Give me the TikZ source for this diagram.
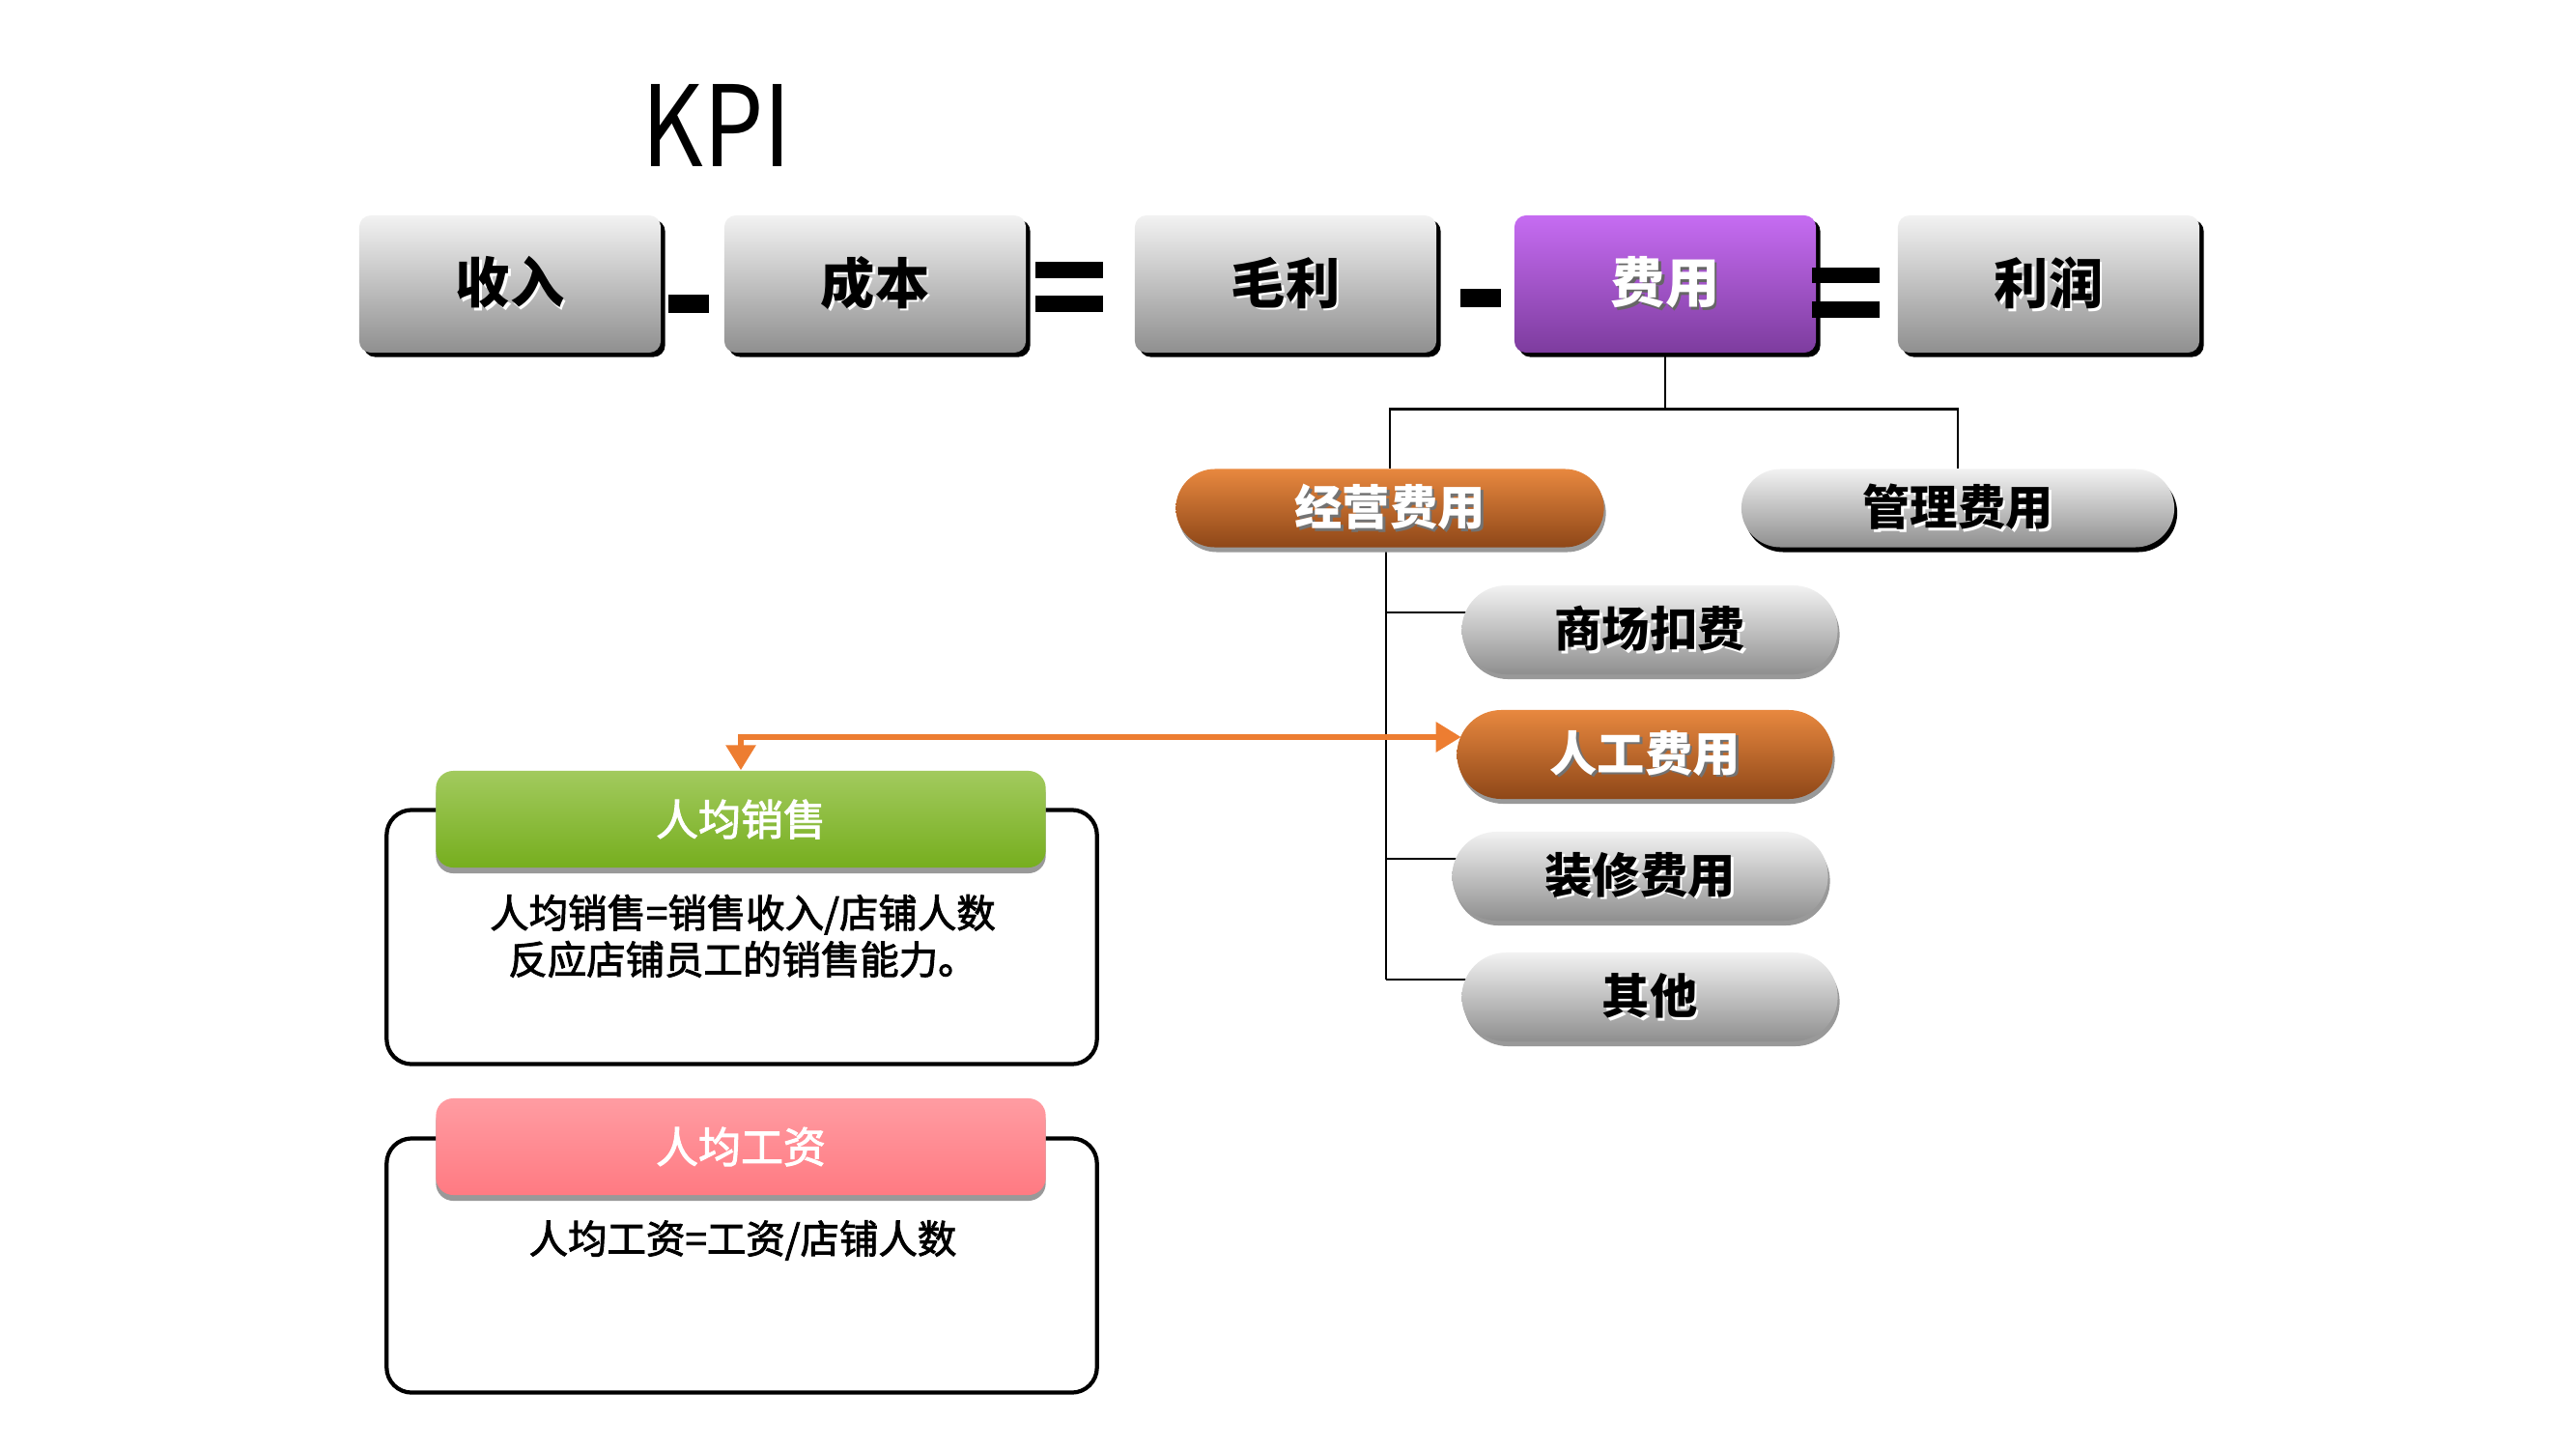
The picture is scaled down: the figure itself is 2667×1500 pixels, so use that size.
\documentclass[tikz,border=0pt]{standalone}
\usepackage{fontspec}
\usepackage{graphicx}
\usetikzlibrary{shapes.misc,shadows,arrows.meta,backgrounds}

\newfontfamily\cjk{Noto Sans CJK SC}
\newfontfamily\cjkmed{Noto Sans CJK SC}[FakeBold=2.2]

\definecolor{boxtop}{HTML}{F2F2F2}
\definecolor{boxbot}{HTML}{8F8F8F}
\definecolor{purtop}{HTML}{C66CF2}
\definecolor{purbot}{HTML}{7D3C9E}
\definecolor{orgtop}{HTML}{E8883F}
\definecolor{orgbot}{HTML}{8E4718}
\definecolor{grntop}{HTML}{A2CA5E}
\definecolor{grnbot}{HTML}{76AE1E}
\definecolor{pnktop}{HTML}{FF9CA2}
\definecolor{pnkbot}{HTML}{FF7A82}
\definecolor{linkorange}{HTML}{ED7D31}

% text with a small offset copy behind it
\newcommand{\shadowed}[2]{\rlap{\hspace{0.8pt}\raisebox{-0.8pt}{\textcolor{#1}{#2}}}#2}

\begin{document}
\begin{tikzpicture}[x=0.01cm,y=-0.01cm,
	kpibox/.style={rectangle,rounded corners=0.12cm,minimum width=3.12cm,minimum height=1.42cm,
		inner sep=0pt,top color=boxtop,bottom color=boxbot,
		drop shadow={shadow xshift=0.045cm,shadow yshift=-0.045cm,fill=black,opacity=1},
		font=\cjk\bfseries\fontsize{16pt}{18pt}\selectfont},
	costbox/.style={kpibox,top color=purtop,bottom color=purbot,text=white},
	pillbase/.style={rounded rectangle,minimum width=3.89cm,minimum height=0.92cm,inner sep=0pt,
		top color=boxtop,bottom color=boxbot,
		font=\cjk\bfseries\fontsize{14pt}{16pt}\selectfont},
	pill/.style={pillbase,drop shadow={shadow xshift=0.02cm,shadow yshift=-0.05cm,fill=black!40,opacity=1}},
	darkpill/.style={pillbase,drop shadow={shadow xshift=0.03cm,shadow yshift=-0.05cm,fill=black,opacity=1}},
	hotpill/.style={pill,top color=orgtop,bottom color=orgbot,text=white},
	frame/.style={draw=black,line width=1.2pt,rounded corners=0.26cm,minimum width=7.35cm,minimum height=2.63cm},
	header/.style={rectangle,rounded corners=0.18cm,minimum width=6.31cm,minimum height=1cm,inner sep=0pt,
		text=white,font=\cjkmed\fontsize{12.5pt}{14pt}\selectfont,
		drop shadow={shadow xshift=0cm,shadow yshift=-0.06cm,fill=black!40,opacity=1}},
	deftext/.style={align=center,inner sep=0pt,font=\cjkmed\fontsize{11.5pt}{13.7pt}\selectfont},
	tree line/.style={draw=black,line width=0.8pt},
	link arrow/.style={draw=linkorange,line width=1.7pt,
		{Triangle[width=0.3cm,length=0.26cm]}-{Triangle[width=0.3cm,length=0.26cm]}}]

	\useasboundingbox (0,0) rectangle (2667,1500);

	\node[font=\cjk\fontsize{33pt}{36pt}\selectfont,anchor=west,inner sep=0pt] (title) at (664,130) {\scalebox{0.85}[1]{KPI}};

	% formula row
	\node[kpibox] (income) at (528,294) {\shadowed{white}{收入}};
	\node[kpibox] (cogs) at (906,294) {\shadowed{white}{成本}};
	\node[kpibox] (gross) at (1331,294) {\shadowed{white}{毛利}};
	\node[costbox] (cost) at (1724,294) {\shadowed{black!60}{费用}};
	\node[kpibox] (profit) at (2121,294) {\shadowed{white}{利润}};

	\fill (692,305) rectangle (734,324);
	\fill (1072,271) rectangle (1142,288);
	\fill (1072,306) rectangle (1142,323);
	\fill (1512,299) rectangle (1554,318);
	\fill (1876,277) rectangle (1946,293);
	\fill (1876,312) rectangle (1946,329);

	% cost tree
	\node[hotpill,minimum width=4.43cm,minimum height=0.81cm] (opcost) at (1439,526) {\shadowed{black!55}{经营费用}};
	\node[darkpill,minimum width=4.48cm,minimum height=0.81cm] (mgmt) at (2027,526) {\shadowed{white}{管理费用}};
	\node[pill] (mall) at (1708,652) {\shadowed{white}{商场扣费}};
	\node[hotpill] (labor) at (1703,781) {\shadowed{black!55}{人工费用}};
	\node[pill] (decor) at (1698,907) {\shadowed{white}{装修费用}};
	\node[pill] (other) at (1708,1032) {\shadowed{white}{其他}};

	\foreach \n in {mall,labor,decor,other}
		\coordinate (\n-in) at ([yshift=0.18cm,xshift=0.05cm]\n.west);
	\coordinate (split) at ([yshift=-0.58cm]cost.south);

	\begin{scope}[on background layer]
		\draw[tree line] (cost.south) -- (split) -| (opcost.north);
		\draw[tree line] (split) -| (mgmt.north);
		\draw[tree line] ([xshift=-0.04cm]opcost.south) -- ([xshift=-0.04cm]opcost.south |- other-in);
		\foreach \n in {mall,decor,other}
			\draw[tree line] ([xshift=-0.04cm]opcost.south |- \n-in) -- (\n-in);
	\end{scope}

	% indicator boxes
	\node[frame] (salesframe) at (768,970) {};
	\node[header,top color=grntop,bottom color=grnbot] (avgsales) at (767,848) {人均销售};
	\node[deftext] (salesdef) at (769,969) {人均销售=销售收入/店铺人数\\反应店铺员工的销售能力。};

	\node[frame] (wageframe) at (768,1310) {};
	\node[header,top color=pnktop,bottom color=pnkbot] (avgwage) at (767,1187) {人均工资};
	\node[deftext] (wagedef) at (769,1284) {人均工资=工资/店铺人数};

	\draw[link arrow] (labor-in) -| (avgsales.north);

\end{tikzpicture}
\end{document}
